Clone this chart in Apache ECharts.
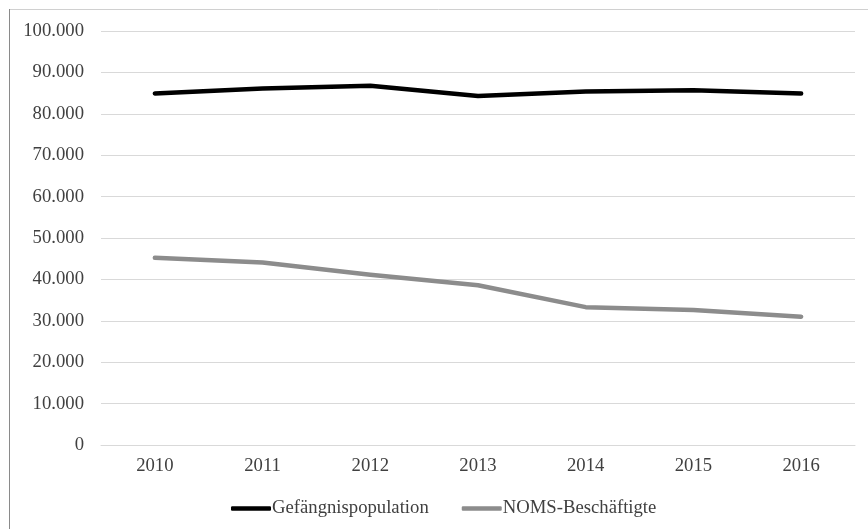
<!DOCTYPE html>
<html>
<head>
<meta charset="utf-8">
<script src="https://cdn.jsdelivr.net/npm/echarts@6/dist/echarts.min.js"></script>
<style>
  html, body { margin: 0; padding: 0; background: #fff; }
  #chart { width: 868px; height: 529px; }
</style>
</head>
<body>
<div id="chart"></div>
<script>
// Jahre auf der x-Achse
const years = ['2010', '2011', '2012', '2013', '2014', '2015', '2016'];
// Gefängnispopulation (Personen)
const prisonPopulation = [84900, 86100, 86800, 84300, 85400, 85700, 84900];
// NOMS-Beschäftigte (Personen)
const nomsStaff = [45200, 44100, 41100, 38600, 33300, 32600, 31000];
// Reihennamen
const seriesNames = ['Gefängnispopulation', 'NOMS-Beschäftigte'];

const font = '"Liberation Serif", "Times New Roman", serif';
const textColor = '#404040';
const gridColor = '#d9d9d9';

function fmtThousands(v) {
  return String(v).replace(/\B(?=(\d{3})+(?!\d))/g, '.');
}

const chart = echarts.init(document.getElementById('chart'), null, { renderer: 'canvas' });
chart.setOption({
  backgroundColor: '#ffffff',
  animation: false,
  grid: { left: 101, right: 13, top: 31, bottom: 84, containLabel: false },
  graphic: [
    { type: 'line', shape: { x1: 9, y1: 9.5, x2: 868, y2: 9.5 }, style: { stroke: '#d0d0d0', lineWidth: 1 } },
    { type: 'line', shape: { x1: 9.5, y1: 9, x2: 9.5, y2: 529 }, style: { stroke: '#8a8a8a', lineWidth: 1 } }
  ],
  xAxis: {
    type: 'category',
    data: years,
    boundaryGap: true,
    axisLine: { show: true, lineStyle: { color: gridColor, width: 1 } },
    axisTick: { show: false },
    axisLabel: { color: textColor, fontFamily: font, fontSize: 18.7, margin: 12 }
  },
  yAxis: {
    type: 'value',
    min: 0,
    max: 100000,
    interval: 10000,
    axisLine: { show: false },
    axisTick: { show: false },
    splitLine: { lineStyle: { color: gridColor, width: 1 } },
    axisLabel: {
      color: textColor, fontFamily: font, fontSize: 18.7, margin: 17,
      formatter: fmtThousands
    }
  },
  legend: {
    data: seriesNames,
    icon: 'roundRect',
    left: 226,
    top: 494,
    itemWidth: 40,
    itemHeight: 4.5,
    itemGap: 33,
    textStyle: { color: textColor, fontFamily: font, fontSize: 18.7, padding: [0, 0, 0, -4] }
  },
  series: [
    {
      name: seriesNames[0],
      type: 'line',
      data: prisonPopulation,
      symbol: 'none',
      color: '#000000',
      lineStyle: { color: '#000000', width: 4.5, cap: 'round', join: 'round' }
    },
    {
      name: seriesNames[1],
      type: 'line',
      data: nomsStaff,
      symbol: 'none',
      color: '#8c8c8c',
      lineStyle: { color: '#8c8c8c', width: 4.5, cap: 'round', join: 'round' }
    }
  ]
});
</script>
</body>
</html>
